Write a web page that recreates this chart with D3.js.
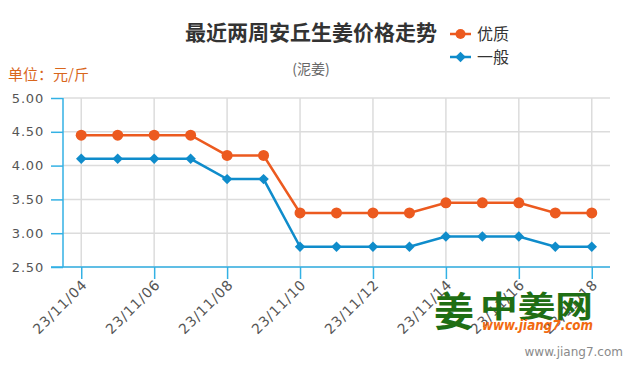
<!DOCTYPE html>
<html>
<head>
<meta charset="utf-8">
<script src="https://cdn.jsdelivr.net/npm/d3@7"></script>
<style>
  body { margin: 0; background: #fff; }
  svg { font-family: "Noto Sans CJK SC", "DejaVu Sans", sans-serif; }
</style>
</head>
<body>
<svg id="chart" width="635" height="375"></svg>
<script>
// data
var dates = ['23/11/04', '23/11/05', '23/11/06', '23/11/07', '23/11/08', '23/11/09', '23/11/10',
  '23/11/11', '23/11/12', '23/11/13', '23/11/14', '23/11/15', '23/11/16', '23/11/17', '23/11/18'];
var youzhi = [4.45, 4.45, 4.45, 4.45, 4.15, 4.15, 3.30, 3.30, 3.30, 3.30, 3.45, 3.45, 3.45, 3.30, 3.30];
var yiban = [4.10, 4.10, 4.10, 4.10, 3.80, 3.80, 2.80, 2.80, 2.80, 2.80, 2.95, 2.95, 2.95, 2.80, 2.80];
var yTicks = [2.5, 3.0, 3.5, 4.0, 4.5, 5.0];
var xTickLabels = ['23/11/04', '23/11/06', '23/11/08', '23/11/10', '23/11/12', '23/11/14', '23/11/16', '23/11/18'];

var orange = '#ec5a1f', blue = '#0f8ccb', axisBlue = '#33b1e4';
var plotLeft = 63, plotRight = 610, plotTop = 98, plotBottom = 267;

var svg = d3.select('#chart');

var x = d3.scalePoint().domain(dates).range([plotLeft, plotRight]).padding(0.5);
var y = d3.scaleLinear().domain([2.5, 5]).range([plotBottom, plotTop]);

// grid
svg.append('g').selectAll('line').data(yTicks).enter().append('line')
  .attr('x1', plotLeft).attr('x2', plotRight)
  .attr('y1', function (d) { return y(d); }).attr('y2', function (d) { return y(d); })
  .attr('stroke', '#dcdcdc').attr('stroke-width', 1.5);
svg.append('g').selectAll('line').data(xTickLabels).enter().append('line')
  .attr('x1', function (d) { return x(d); }).attr('x2', function (d) { return x(d); })
  .attr('y1', plotTop).attr('y2', plotBottom)
  .attr('stroke', '#dcdcdc').attr('stroke-width', 1.5);

// y axis
var yAxis = svg.append('g').attr('transform', 'translate(' + plotLeft + ',0)')
  .call(d3.axisLeft(y).tickValues(yTicks).tickSize(12).tickPadding(7).tickFormat(d3.format('.2f')));
yAxis.select('.domain').attr('stroke', axisBlue).attr('stroke-width', 1.5).attr('d', 'M0,' + plotTop + 'V' + plotBottom);
yAxis.selectAll('.tick line').attr('stroke', axisBlue).attr('stroke-width', 1.5);
yAxis.selectAll('.tick text').attr('fill', '#555').style('font-size', '13px')
  .style('font-family', '"DejaVu Sans", sans-serif').style('letter-spacing', '0.8px');

// x axis
var xAxis = svg.append('g').attr('transform', 'translate(0,' + plotBottom + ')')
  .call(d3.axisBottom(x).tickValues(xTickLabels).tickSize(12).tickPadding(4));
xAxis.select('.domain').attr('stroke', axisBlue).attr('stroke-width', 1.5).attr('d', 'M51,0H' + plotRight);
xAxis.selectAll('.tick line').attr('stroke', axisBlue).attr('stroke-width', 1.5);
xAxis.selectAll('.tick text').attr('fill', '#555').style('font-size', '14px')
  .style('font-family', '"DejaVu Sans", sans-serif').style('letter-spacing', '0.9px')
  .attr('text-anchor', 'end').attr('dy', '0.35em')
  .attr('transform', 'translate(3,15) rotate(-45)').attr('x', 0).attr('y', 0);

// lines
var line = d3.line().x(function (d, i) { return x(dates[i]); }).y(function (d) { return y(d); });

svg.append('path').datum(youzhi).attr('d', line)
  .attr('fill', 'none').attr('stroke', orange).attr('stroke-width', 2.5);
svg.append('path').datum(yiban).attr('d', line)
  .attr('fill', 'none').attr('stroke', blue).attr('stroke-width', 2.5);

svg.append('g').selectAll('circle').data(youzhi).enter().append('circle')
  .attr('cx', function (d, i) { return x(dates[i]); })
  .attr('cy', function (d) { return y(d); })
  .attr('r', 5.5).attr('fill', orange);

var diamond = d3.symbol().type(d3.symbolDiamond2).size(70);
svg.append('g').selectAll('path').data(yiban).enter().append('path')
  .attr('d', diamond)
  .attr('transform', function (d, i) { return 'translate(' + x(dates[i]) + ',' + y(d) + ')'; })
  .attr('fill', blue);

// titles
svg.append('text').attr('x', 311).attr('y', 40).attr('text-anchor', 'middle')
  .style('font-size', '21px').style('font-weight', 'bold').attr('fill', '#333')
  .text('最近两周安丘生姜价格走势');
svg.append('text').attr('x', 311).attr('y', 74).attr('text-anchor', 'middle')
  .style('font-size', '14px').attr('fill', '#666')
  .text('(泥姜)');
svg.append('text').attr('x', 8).attr('y', 80)
  .style('font-size', '15px').attr('fill', '#d9661c')
  .text('单位：元/斤');

// legend
var legend = [{name: '优质', color: orange, shape: 'circle', y: 34}, {name: '一般', color: blue, shape: 'diamond', y: 57}];
var lg = svg.append('g').selectAll('g').data(legend).enter().append('g')
  .attr('transform', function (d) { return 'translate(450,' + d.y + ')'; });
lg.append('line').attr('x1', 0).attr('x2', 21).attr('stroke', function (d) { return d.color; }).attr('stroke-width', 2.5);
lg.filter(function (d) { return d.shape === 'circle'; }).append('circle')
  .attr('cx', 10.5).attr('r', 5).attr('fill', orange);
lg.filter(function (d) { return d.shape === 'diamond'; }).append('path')
  .attr('d', diamond).attr('transform', 'translate(10.5,0)').attr('fill', blue);
lg.append('text').attr('x', 27).attr('y', 6).style('font-size', '16px').attr('fill', '#333')
  .text(function (d) { return d.name; });

// watermark
var wm = svg.append('g');
wm.append('text').attr('x', 434).attr('y', 326).style('font-size', '40px').style('font-weight', 'bold')
  .attr('fill', '#1f6e14').text('姜');
wm.append('text').attr('x', 480).attr('y', 317).attr('textLength', 113).attr('lengthAdjust', 'spacingAndGlyphs')
  .style('font-size', '30px').style('font-weight', 'bold').attr('fill', '#1f6e14').text('中姜网');
wm.append('text').attr('x', 482).attr('y', 330).attr('textLength', 111).attr('lengthAdjust', 'spacingAndGlyphs')
  .style('font-size', '14px').style('font-weight', 'bold').style('font-style', 'italic')
  .style('font-family', '"DejaVu Sans", sans-serif').attr('fill', '#f26a10').text('www.jiang7.com');
svg.append('text').attr('x', 623).attr('y', 356).attr('text-anchor', 'end')
  .style('font-size', '12px').style('font-family', '"DejaVu Sans", sans-serif').attr('fill', '#8a8a8a')
  .text('www.jiang7.com');
</script>
</body>
</html>
